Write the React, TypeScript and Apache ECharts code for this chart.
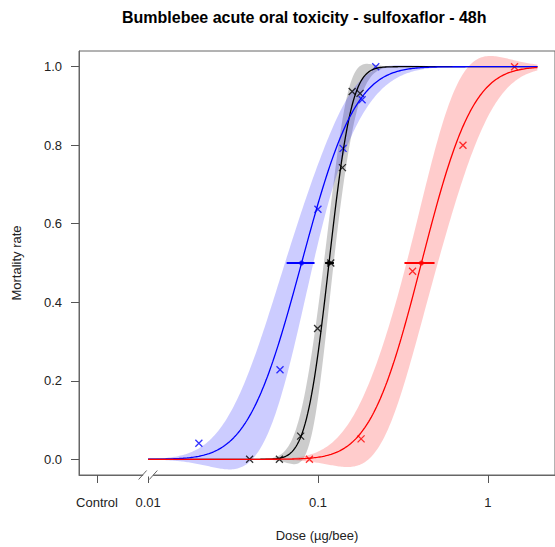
import React, { useEffect, useRef } from 'react';
import * as echarts from 'echarts';

const TITLE = 'Bumblebee acute oral toxicity - sulfoxaflor - 48h';
const X_NAME = 'Dose (µg/bee)';
const Y_NAME = 'Mortality rate';

// axis ticks (dose in µg/bee; "Control" is plotted at a nominal dose)
const xTickDoses = [0.005, 0.01, 0.1, 1];
const xTickLabels = ['Control', '0.01', '0.1', '1'];
const yTicks = [0, 0.2, 0.4, 0.6, 0.8, 1.0];

// observed mortality per dose group
const blackDose = [0.0396, 0.0593, 0.0791, 0.0995, 0.119, 0.1394, 0.159, 0.177];
const blackMort = [0, 0, 0.059, 0.333, 0.5, 0.743, 0.937, 0.932];
const blueDose = [0.0199, 0.0598, 0.1, 0.1406, 0.182, 0.219];
const blueMort = [0.041, 0.228, 0.637, 0.792, 0.916, 1.0];
const redDose = [0.0891, 0.1795, 0.3608, 0.7145, 1.438];
const redMort = [0, 0.052, 0.479, 0.8, 1.0];

// fitted dose-response (log-normal) parameters, order: black, blue, red
const ld50 = [0.1162, 0.0801, 0.4068];
const ld50Low = [0.1102, 0.0654, 0.3232];
const ld50High = [0.1242, 0.0955, 0.4861];
const slope = [9.5, 4.0, 4.2];
const seLogLd50 = [0.0147, 0.0421, 0.0465];
const seSlope = [1.3, 0.59, 0.77];
const covSlopeLd50 = [0.004, 0.016, -0.005];
const curveDoseRange = [0.01, 1.96];

const lineColors = ['#000000', '#0000ff', '#ff0000'];
const bandColors = ['rgba(0,0,0,0.2)', 'rgba(0,0,255,0.2)', 'rgba(255,0,0,0.2)'];

const X_MIN = -2.407;
const X_MAX = 0.396;
const Y_MIN = -0.04;
const Y_MAX = 1.04;
const FONT = "'Liberation Sans', Arial, Helvetica, sans-serif";
const X_SYMBOL = 'path://M0 0L10 10M10 0L0 10';
const AXIS_COLOR = '#666';
const TICK_COLOR = '#555';

function erf(x: number) {
  const s = Math.sign(x);
  const a = Math.abs(x);
  const t = 1 / (1 + 0.3275911 * a);
  const y = 1 - ((((1.061405429 * t - 1.453152027) * t + 1.421413741) * t - 0.284496736) * t + 0.254829592) * t * Math.exp(-a * a);
  return s * y;
}
const Phi = (z: number) => 0.5 * (1 + erf(z / Math.SQRT2));
const phi = (z: number) => Math.exp(-z * z / 2) / Math.sqrt(2 * Math.PI);

function buildCurve(i: number) {
  const N = 300;
  const l0 = Math.log10(curveDoseRange[0]);
  const l1 = Math.log10(curveDoseRange[1]);
  const le = Math.log10(ld50[i]);
  const s = slope[i];
  const vl = seLogLd50[i] ** 2;
  const vs = seSlope[i] ** 2;
  const c = covSlopeLd50[i];
  const mid: number[][] = [];
  const up: number[][] = [];
  const lo: number[][] = [];
  for (let k = 0; k <= N; k++) {
    const lx = l0 + ((l1 - l0) * k) / N;
    const d = lx - le;
    const z = s * d;
    const y = Phi(z);
    const S2 = Math.max(0, d * d * vs + s * s * vl - 2 * s * d * c);
    const se = phi(z) * Math.sqrt(S2);
    mid.push([lx, y]);
    up.push([lx, y + 1.96 * se]);
    lo.push([lx, y - 1.96 * se]);
  }
  return { mid, up, lo };
}

const groups = [
  { dose: blackDose, mort: blackMort },
  { dose: blueDose, mort: blueMort },
  { dose: redDose, mort: redMort },
];

function buildSeries() {
  const series: any[] = [];
  groups.forEach((g, i) => {
    const { mid, up, lo } = buildCurve(i);
    series.push({
      type: 'custom',
      silent: true,
      clip: true,
      data: [[mid[0][0], mid[0][1]]],
      renderItem: (_params: any, api: any) => {
        const pts = [
          ...up.map((p) => api.coord(p)),
          ...lo.slice().reverse().map((p) => api.coord(p)),
        ];
        return { type: 'polygon', shape: { points: pts }, style: { fill: bandColors[i] } };
      },
    });
    series.push({
      type: 'line',
      silent: true,
      data: mid,
      symbol: 'none',
      lineStyle: { color: lineColors[i], width: 1.3 },
    });
    series.push({
      type: 'line',
      silent: true,
      data: [
        [Math.log10(ld50Low[i]), 0.5],
        [Math.log10(ld50High[i]), 0.5],
      ],
      symbol: 'none',
      lineStyle: { color: lineColors[i], width: 2 },
    });
    series.push({
      type: 'scatter',
      silent: true,
      data: [[Math.log10(ld50[i]), 0.5]],
      symbol: 'circle',
      symbolSize: 5,
      itemStyle: { color: lineColors[i] },
    });
    series.push({
      type: 'scatter',
      silent: true,
      data: g.dose.map((d, j) => [Math.log10(d), g.mort[j]]),
      symbol: X_SYMBOL,
      symbolSize: 7,
      itemStyle: { color: 'transparent', borderColor: lineColors[i], borderWidth: 1.3 },
    });
  });
  return series;
}

export default function App() {
  const ref = useRef<HTMLDivElement>(null);
  useEffect(() => {
    if (!ref.current) return;
    const chart = echarts.init(ref.current, null, { renderer: 'svg' });
    const xTickPos = xTickDoses.map((d) => Math.log10(d));
    const option: any = {
      animation: false,
      backgroundColor: '#ffffff',
      title: {
        text: TITLE,
        left: 122,
        top: 9,
        padding: 0,
        textStyle: { fontFamily: FONT, fontSize: 16, fontWeight: 'bold', color: '#000' },
      },
      grid: {
        left: 79,
        top: 51,
        right: 555 - 564.6,
        bottom: 70,
        show: true,
        borderColor: AXIS_COLOR,
        borderWidth: 1,
        backgroundColor: 'transparent',
      },
      xAxis: {
        type: 'value',
        min: X_MIN,
        max: X_MAX,
        axisLine: { show: true, onZero: false, lineStyle: { color: AXIS_COLOR, width: 1 } },
        splitLine: { show: false },
        axisTick: { show: true, customValues: xTickPos, length: 8, lineStyle: { color: TICK_COLOR, width: 1 } },
        axisLabel: {
          customValues: xTickPos,
          margin: 21,
          fontSize: 13,
          fontFamily: FONT,
          color: '#222',
          formatter: (v: number) => {
            let best = 0;
            xTickPos.forEach((p, k) => {
              if (Math.abs(p - v) < Math.abs(xTickPos[best] - v)) best = k;
            });
            return xTickLabels[best];
          },
        },
        name: X_NAME,
        nameLocation: 'middle',
        nameGap: 54,
        nameTextStyle: { fontFamily: FONT, fontSize: 13, color: '#222' },
      },
      yAxis: {
        type: 'value',
        min: Y_MIN,
        max: Y_MAX,
        axisLine: { show: true, onZero: false, lineStyle: { color: AXIS_COLOR, width: 1 } },
        splitLine: { show: false },
        axisTick: { show: true, customValues: yTicks, length: 8, lineStyle: { color: TICK_COLOR, width: 1 } },
        axisLabel: {
          customValues: yTicks,
          margin: 17,
          fontSize: 13,
          fontFamily: FONT,
          color: '#222',
          formatter: (v: number) => v.toFixed(1),
        },
        name: Y_NAME,
        nameLocation: 'middle',
        nameGap: 56,
        nameTextStyle: { fontFamily: FONT, fontSize: 13, color: '#222' },
      },
      series: buildSeries(),
    };
    chart.setOption(option);
    const [bx, by] = chart.convertToPixel({ gridIndex: 0 }, [Math.log10(0.01), Y_MIN]) as number[];
    chart.setOption({
      graphic: [
        { type: 'rect', z: 100, shape: { x: bx - 5, y: by - 2, width: 10, height: 3.5 }, style: { fill: '#ffffff' } },
        { type: 'line', z: 101, shape: { x1: bx - 9.5, y1: by + 4.5, x2: bx - 1.5, y2: by - 4.5 }, style: { stroke: AXIS_COLOR, lineWidth: 1 } },
        { type: 'line', z: 101, shape: { x1: bx + 1.2, y1: by + 4.5, x2: bx + 9.2, y2: by - 4.5 }, style: { stroke: AXIS_COLOR, lineWidth: 1 } },
      ],
    });
    return () => chart.dispose();
  }, []);
  return (
    <div
      ref={ref}
      style={{ position: 'fixed', left: 0, top: 0, width: 555, height: 547, background: '#fff' }}
    />
  );
}
